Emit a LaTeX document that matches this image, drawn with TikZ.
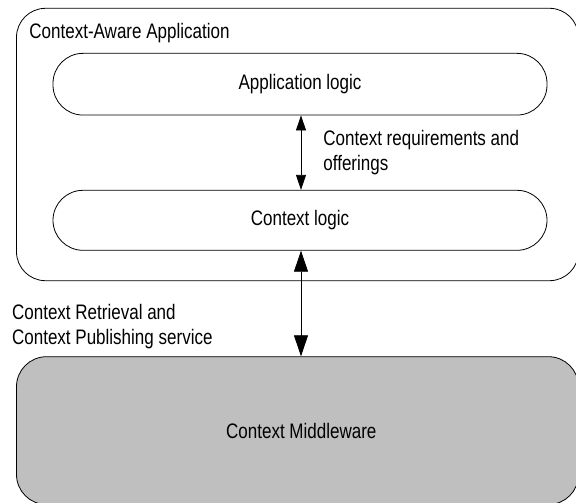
\documentclass[tikz,border=0pt]{standalone}
\usepackage{fontspec}
\setmainfont{Liberation Sans}[FakeStretch=0.81]
\usetikzlibrary{arrows.meta}
\begin{document}
\begin{tikzpicture}[x=1pt,y=-1pt,
  line width=0.8pt,
  lbl/.style={font=\fontsize{21}{25}\selectfont, inner sep=0pt},
  pill/.style={draw, rounded corners=30pt, minimum width=494pt, inner sep=0pt},
  biarrow/.style={{Triangle[length=15pt,width=10pt]}-{Triangle[length=15pt,width=10pt]}},
  bigarrow/.style={{Triangle[length=21pt,width=14pt]}-{Triangle[length=21pt,width=14pt]}}]
\useasboundingbox (0,0) rectangle (576,503);
\clip (0,0) rectangle (576,503);
\node[draw, rounded corners=29pt, minimum width=562pt, minimum height=272.4pt, inner sep=0pt] (outer) at (297.5,144.5) {};
\node[lbl, anchor=base west] (outerlbl) at (29,38.3) {Context-Aware Application};
\node[pill, minimum height=61.7pt, lbl] (app) at (300,84.2) {Application logic};
\node[pill, minimum height=60pt, lbl] (ctx) at (300,220.3) {Context logic};
\node[draw, fill=black!25, rounded corners=30pt, minimum width=562pt, minimum height=147.8pt, inner sep=0pt, lbl] (mw) at (297.5,430.6) {};
\node[lbl, anchor=base] (mwlbl) at (301.3,438.3) {Context Middleware};
\draw[biarrow] (app.south -| 301,0) -- (ctx.north -| 301,0);
\draw[bigarrow] (ctx.south -| 301,0) -- (mw.north -| 301,0);
\node[lbl, anchor=north west, align=left] (req) at (323,130) {Context requirements and\\offerings};
\node[lbl, anchor=north west, align=left] (ret) at (11.7,304.3) {Context Retrieval and\\Context Publishing service};
\end{tikzpicture}
\end{document}
